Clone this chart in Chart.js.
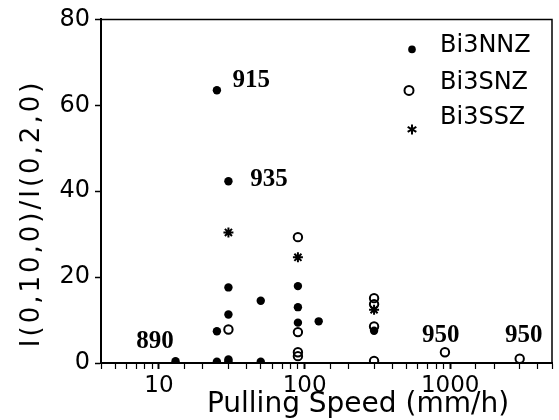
<!DOCTYPE html>
<html>
<head>
<meta charset="utf-8">
<script src="https://cdn.jsdelivr.net/npm/chart.js@4"></script>
<style>
  html, body { margin: 0; padding: 0; background: #fff; }
  #wrap { width: 559px; height: 420px; }
</style>
</head>
<body>
<div id="wrap"><canvas id="chart"></canvas></div>
<script>
// Bi3NNZ (filled circles)
const nnzSpeed = [25, 30, 30, 30, 25, 30, 30, 25, 13, 50, 50, 90, 90, 90, 125, 300];
const nnzRatio = [63.5, 42.3, 17.6, 11.3, 7.4, 0.8, 0.4, 0.3, 0.4, 14.5, 0.3, 17.9, 13, 9.4, 9.7, 7.5];
// Bi3SNZ (open circles)
const snzSpeed = [30, 90, 90, 90, 90, 300, 300, 300, 300, 920, 3000];
const snzRatio = [7.8, 29.3, 7.2, 2.5, 1.6, 15.1, 13.7, 8.5, 0.5, 2.5, 1];
// Bi3SSZ (stars)
const sszSpeed = [30, 90, 300];
const sszRatio = [30.4, 24.6, 12.4];

// temperature labels written on the plot
const tempText = ['915', '935', '890', '950', '950'];
const tempSpeed = [43, 57, 9.4, 860, 3200];
const tempRatio = [65.8, 42.6, 5.1, 6.3, 6.3];

const xTickLabels = [10, 100, 1000];
const yTicks = [0, 20, 40, 60, 80];
const seriesNames = ['Bi3NNZ', 'Bi3SNZ', 'Bi3SSZ'];

function toPoints(xs, ys) {
    return xs.map((x, i) => ({ x: x, y: ys[i] }));
}

const sansFont = '"DejaVu Sans", sans-serif';

const framePlugin = {
    id: 'frame',
    afterDraw(chart) {
        const { ctx, chartArea: a } = chart;
        ctx.save();
        ctx.strokeStyle = '#000';
        ctx.lineWidth = 1.5;
        ctx.beginPath();
        ctx.moveTo(a.left, a.top);
        ctx.lineTo(a.right, a.top);
        ctx.lineTo(a.right, a.bottom);
        ctx.stroke();
        ctx.restore();
    }
};

const tempLabelPlugin = {
    id: 'tempLabels',
    afterDatasetsDraw(chart) {
        const { ctx, scales } = chart;
        ctx.save();
        ctx.fillStyle = '#000';
        ctx.font = 'bold 25px "Liberation Serif", serif';
        ctx.textAlign = 'center';
        ctx.textBaseline = 'middle';
        tempText.forEach((t, i) => {
            ctx.fillText(t, scales.x.getPixelForValue(tempSpeed[i]), scales.y.getPixelForValue(tempRatio[i]));
        });
        ctx.restore();
    }
};

const legendPlugin = {
    id: 'insideLegend',
    afterDraw(chart) {
        const { ctx, chartArea: a } = chart;
        const markerX = a.left + 311;
        const textX = a.left + 339;
        const textY = [26, 63, 98];
        const markerY = [30, 71, 110];
        ctx.save();
        ctx.fillStyle = '#000';
        ctx.strokeStyle = '#000';
        ctx.font = '24px ' + sansFont;
        ctx.textAlign = 'left';
        ctx.textBaseline = 'middle';
        seriesNames.forEach((name, i) => {
            ctx.fillText(name, textX, a.top + textY[i]);
        });
        // markers
        let y = a.top + markerY[0];
        ctx.beginPath();
        ctx.arc(markerX, y, 3.8, 0, Math.PI * 2);
        ctx.fill();
        y = a.top + markerY[1];
        ctx.lineWidth = 2;
        ctx.beginPath();
        ctx.arc(markerX - 3, y, 4.5, 0, Math.PI * 2);
        ctx.stroke();
        y = a.top + markerY[2];
        ctx.beginPath();
        for (let k = 0; k < 3; k++) {
            const ang = Math.PI / 2 + k * Math.PI / 3;
            ctx.moveTo(markerX - 5 * Math.cos(ang), y - 5 * Math.sin(ang));
            ctx.lineTo(markerX + 5 * Math.cos(ang), y + 5 * Math.sin(ang));
        }
        ctx.stroke();
        ctx.restore();
    }
};

const axisTitlePlugin = {
    id: 'axisTitles',
    afterDraw(chart) {
        const { ctx, chartArea: a } = chart;
        ctx.save();
        ctx.fillStyle = '#000';
        ctx.textAlign = 'center';
        ctx.textBaseline = 'middle';
        ctx.font = '28px ' + sansFont;
        ctx.fillText('Pulling Speed (mm/h)', a.left + 257, a.bottom + 42);
        ctx.translate(32, a.top + 194);
        ctx.rotate(-Math.PI / 2);
        ctx.font = '26px ' + sansFont;
        if ('letterSpacing' in ctx) ctx.letterSpacing = '3px';
        ctx.fillText('I(0,10,0)/I(0,2,0)', 0, 0);
        ctx.restore();
    }
};

const ctx = document.getElementById('chart').getContext('2d');
new Chart(ctx, {
    type: 'scatter',
    data: {
        datasets: [
            {
                label: seriesNames[0],
                data: toPoints(nnzSpeed, nnzRatio),
                pointStyle: 'circle',
                pointRadius: 4.2,
                backgroundColor: '#000',
                borderColor: '#000',
                borderWidth: 0
            },
            {
                label: seriesNames[1],
                data: toPoints(snzSpeed, snzRatio),
                pointStyle: 'circle',
                pointRadius: 4.2,
                backgroundColor: 'rgba(255,255,255,0)',
                borderColor: '#000',
                borderWidth: 2
            },
            {
                label: seriesNames[2],
                data: toPoints(sszSpeed, sszRatio),
                pointStyle: 'star',
                pointRadius: 5,
                backgroundColor: '#000',
                borderColor: '#000',
                borderWidth: 2
            }
        ]
    },
    options: {
        responsive: true,
        maintainAspectRatio: false,
        animation: false,
        layout: {
            padding: { top: 18, right: 5, left: 0, bottom: 0 }
        },
        plugins: {
            legend: { display: false },
            tooltip: { enabled: false }
        },
        scales: {
            x: {
                type: 'logarithmic',
                min: 4,
                max: 5000,
                afterFit(scale) { scale.height = 57; },
                border: { display: true, color: '#000', width: 2 },
                grid: {
                    drawOnChartArea: false,
                    drawTicks: true,
                    tickLength: 6,
                    tickColor: '#000',
                    tickWidth: (c) => xTickLabels.includes(c.tick && c.tick.value) ? 2 : 1.2
                },
                ticks: {
                    autoSkip: false,
                    maxRotation: 0,
                    padding: 3,
                    color: '#000',
                    font: { family: sansFont, size: 23 },
                    callback: (v) => xTickLabels.includes(v) ? String(v) : ''
                }
            },
            y: {
                min: 0,
                max: 80,
                afterFit(scale) { scale.width = 101; },
                afterBuildTicks(scale) { scale.ticks = yTicks.map(v => ({ value: v })); },
                border: { display: true, color: '#000', width: 2 },
                grid: {
                    drawOnChartArea: false,
                    drawTicks: true,
                    tickLength: 6,
                    tickColor: '#000',
                    tickWidth: 1.5
                },
                ticks: {
                    padding: 5,
                    color: '#000',
                    font: { family: sansFont, size: 24 }
                }
            }
        }
    },
    plugins: [framePlugin, tempLabelPlugin, legendPlugin, axisTitlePlugin]
});
</script>
</body>
</html>
